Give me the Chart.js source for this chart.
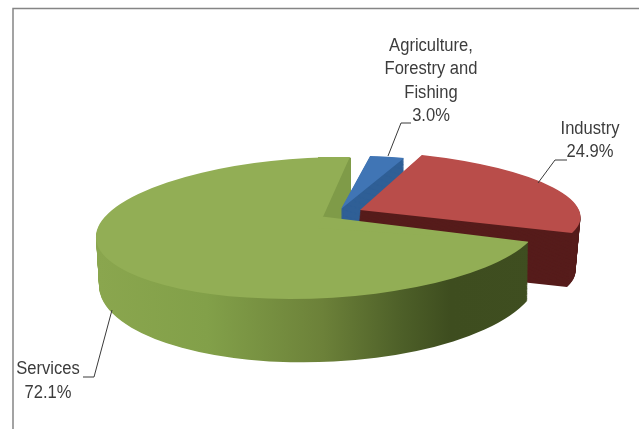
<!DOCTYPE html>
<html>
<head>
<meta charset="utf-8">
<title>Share of GDP by sector</title>
<script src="https://cdn.jsdelivr.net/npm/chart.js@4"></script>
<style>
html, body { margin: 0; padding: 0; background: #fff; }
canvas { display: block; }
</style>
</head>
<body>
<canvas id="mycanvas" width="639" height="429"></canvas>
<script>
// data
var categories = ['Agriculture, Forestry and Fishing', 'Industry', 'Services'];
var shares = [3.0, 24.9, 72.1];
var labelLines = [['Agriculture,', 'Forestry and', 'Fishing'], ['Industry'], ['Services']];

// colours
var topColors = ['#4075b5', '#b94d4a', '#92ae55'];
var wallColors = ['#2f5f96', '#561c1b', null];
var textColor = '#3c3c3c';

// tilted view of each slice: origin is where the tip lands, m = [xx, xy, yx, yy]
// "bottom" is the same slice at the foot of its side wall
var views = [
    { origin: [341, 209], m: [186.5, 1.4, -3.4, 53.2],
      bottom: { origin: [341, 269], m: [186.5, 1.4, -3.4, 53.2] } },
    { origin: [360, 210], m: [220, 15, 3, 59.7],
      bottom: { origin: [355, 264], m: [220, 15, 3, 59.7] } },
    { origin: [318, 228], m: [222, 4.5, -10.4, 70.2],
      bottom: { origin: [319, 279.5], m: [220, 4.5, -7.5, 82.5] } }
];
// flatter copy of the green slice, gives the tip its place further back
var greenBackView = { origin: [318, 216], m: [222, 4.5, 5.6, 60.7], clip: [318, 157, 321, 272] };
// dark sliver for the cut wall behind the blue slice
var greenCutView = { origin: [351, 216], m: [35, 5.8, 0, 59] };
// the green wall only shows below this line
var greenWallClip = [0, 222, 639, 207];

// label anchors and leader lines
var labelPos = [[431, 46], [590, 129], [48, 369.5]];
var lineHeights = [23.4, 23.5, 24];
var labelStretch = 0.92;
var leaders = [
    [[388, 156], [401, 123], [411, 123]],
    [[538, 183], [555, 160], [567, 160]],
    [[112, 310], [94, 377], [83, 377]]
];

function drawSlice(ctx, el, view, color) {
    var R = el.outerRadius;
    var copy = Object.create(el);
    copy.options = Object.assign({}, el.options, { backgroundColor: color, borderWidth: 0 });
    ctx.save();
    if (view.clip) {
        ctx.beginPath();
        ctx.rect(view.clip[0], view.clip[1], view.clip[2], view.clip[3]);
        ctx.clip();
    }
    ctx.translate(view.origin[0], view.origin[1]);
    ctx.transform(view.m[0] / R, view.m[2] / R, view.m[1] / R, view.m[3] / R, 0, 0);
    ctx.translate(-el.x, -el.y);
    el.draw.call(copy, ctx);
    ctx.restore();
}

function lerp(a, b, t) {
    return a.map(function (v, i) { return v + (b[i] - v) * t; });
}

function drawWall(ctx, el, view, color, clip) {
    var steps = 70;
    for (var s = steps; s > 0; s--) {
        var t = s / steps;
        drawSlice(ctx, el, {
            origin: lerp(view.origin, view.bottom.origin, t),
            m: lerp(view.m, view.bottom.m, t),
            clip: clip
        }, color);
    }
}

var pie3d = {
    id: 'pie3d',
    beforeDatasetDraw: function (chart) {
        var ctx = chart.ctx;
        var arcs = chart.getDatasetMeta(0).data;
        var green = arcs[2];

        // side of the green slice, shaded across its width
        var grad = ctx.createLinearGradient(green.x - green.outerRadius, 0, green.x + green.outerRadius, 0);
        grad.addColorStop(0, '#8aa64e');
        grad.addColorStop(0.24, '#82a049');
        grad.addColorStop(0.5, '#6c8139');
        grad.addColorStop(0.68, '#4d5f28');
        grad.addColorStop(0.79, '#3e4d1f');
        grad.addColorStop(1, '#3f4e20');

        drawSlice(ctx, green, greenCutView, '#7f9b48');
        drawWall(ctx, arcs[0], views[0], wallColors[0]);
        drawSlice(ctx, arcs[0], views[0], topColors[0]);
        drawWall(ctx, arcs[1], views[1], wallColors[1]);
        drawSlice(ctx, arcs[1], views[1], topColors[1]);
        drawWall(ctx, green, views[2], grad, greenWallClip);
        drawSlice(ctx, green, greenBackView, topColors[2]);
        drawSlice(ctx, green, views[2], topColors[2]);
        return false;
    },
    afterDraw: function (chart) {
        var ctx = chart.ctx;
        ctx.save();

        // frame
        ctx.strokeStyle = '#858585';
        ctx.lineWidth = 1.5;
        ctx.beginPath();
        ctx.moveTo(13, 429);
        ctx.lineTo(13, 8.5);
        ctx.lineTo(639, 8.5);
        ctx.stroke();

        // leaders
        ctx.strokeStyle = '#3a3a3a';
        ctx.lineWidth = 1;
        leaders.forEach(function (pts) {
            ctx.beginPath();
            pts.forEach(function (p, i) {
                if (i === 0) ctx.moveTo(p[0], p[1]);
                else ctx.lineTo(p[0], p[1]);
            });
            ctx.stroke();
        });

        // labels, narrowed a little like the original typeface
        ctx.fillStyle = textColor;
        ctx.font = '18px "Liberation Sans", sans-serif';
        ctx.textAlign = 'center';
        ctx.textBaseline = 'middle';
        categories.forEach(function (name, i) {
            var lines = labelLines[i].concat(shares[i].toFixed(1) + '%');
            lines.forEach(function (line, j) {
                ctx.save();
                ctx.translate(labelPos[i][0], labelPos[i][1] + j * lineHeights[i]);
                ctx.scale(labelStretch, 1);
                ctx.fillText(line, 0, 0);
                ctx.restore();
            });
        });
        ctx.restore();
    }
};

var chartdata = {
    labels: categories,
    datasets: [{
        data: shares,
        backgroundColor: topColors,
        borderWidth: 0
    }]
};

var barGraph = new Chart(document.getElementById('mycanvas'), {
    type: 'pie',
    data: chartdata,
    plugins: [pie3d],
    options: {
        responsive: false,
        devicePixelRatio: 1,
        animation: false,
        rotation: 9.4,
        plugins: {
            legend: { display: false },
            tooltip: { enabled: false }
        }
    }
});
</script>
</body>
</html>
